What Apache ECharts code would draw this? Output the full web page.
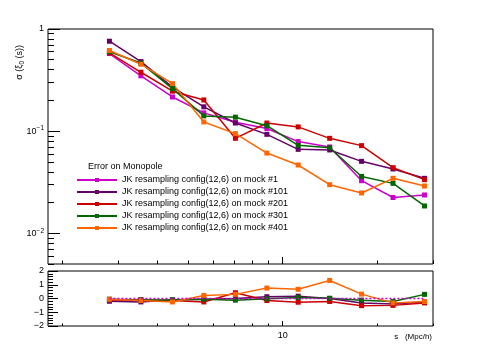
<!DOCTYPE html>
<html>
<head>
<meta charset="utf-8">
<script src="https://cdn.jsdelivr.net/npm/echarts@6/dist/echarts.min.js"></script>
<style>
  html, body { margin: 0; padding: 0; background: #fff; }
  #container { width: 482px; height: 346px; }
</style>
</head>
<body>
<div id="container"></div>
<script>
// s bins (Mpc/h)
var sValues = [2.82, 3.55, 4.47, 5.62, 7.08, 8.91, 11.2, 14.1, 17.8, 22.4, 28.2];

var seriesNames = [
  'JK resampling config(12,6) on mock #1',
  'JK resampling config(12,6) on mock #101',
  'JK resampling config(12,6) on mock #201',
  'JK resampling config(12,6) on mock #301',
  'JK resampling config(12,6) on mock #401'
];
var seriesColors = ['#cc00cc', '#660066', '#cc0000', '#006600', '#ff6600'];

// top panel: sigma(xi_0(s))
var sigmaMock1   = [0.575, 0.348, 0.216, 0.151, 0.122, 0.106, 0.079, 0.070, 0.0327, 0.0224, 0.0237];
var sigmaMock101 = [0.759, 0.480, 0.270, 0.173, 0.120, 0.093, 0.0663, 0.0654, 0.0506, 0.0426, 0.0345];
var sigmaMock201 = [0.584, 0.377, 0.246, 0.202, 0.085, 0.120, 0.110, 0.085, 0.0721, 0.0439, 0.0335];
var sigmaMock301 = [0.598, 0.464, 0.261, 0.141, 0.137, 0.113, 0.0726, 0.0688, 0.036, 0.0308, 0.0185];
var sigmaMock401 = [0.616, 0.452, 0.292, 0.123, 0.0945, 0.061, 0.0466, 0.0299, 0.0248, 0.0345, 0.029];

// bottom panel: difference w.r.t. mock #1
var diffMock1   = [0, 0, 0, 0, 0, 0, 0, 0, 0, 0, 0];
var diffMock101 = [-0.2, -0.25, -0.1, -0.05, 0.0, 0.13, 0.17, 0.0, -0.32, -0.4, -0.25];
var diffMock201 = [-0.1, -0.1, -0.15, -0.25, 0.42, -0.15, -0.27, -0.22, -0.52, -0.5, -0.32];
var diffMock301 = [-0.05, -0.1, -0.1, -0.05, -0.12, -0.02, 0.07, 0.02, -0.12, -0.22, 0.3];
var diffMock401 = [-0.05, -0.15, -0.25, 0.22, 0.3, 0.76, 0.67, 1.31, 0.32, -0.32, -0.22];

// tick values
var xMajorTicks = [10];
var xMinorTicks = [2, 3, 4, 5, 6, 7, 8, 9, 20, 30];
var yMajorTicks = [0.01, 0.1, 1];
var yMinorTicks = [0.005, 0.006, 0.007, 0.008, 0.009, 0.02, 0.03, 0.04, 0.05, 0.06, 0.07, 0.08, 0.09,
                   0.2, 0.3, 0.4, 0.5, 0.6, 0.7, 0.8, 0.9];
var xRange = [1.8, 30];
var yRange = [0.005, 1];

var sigmaData = [sigmaMock1, sigmaMock101, sigmaMock201, sigmaMock301, sigmaMock401];
var diffData = [diffMock1, diffMock101, diffMock201, diffMock301, diffMock401];

var FONT = 'Liberation Sans, Arial, sans-serif';
var lg = Math.log10;

var dom = document.getElementById('container');
var myChart = echarts.init(dom, null, { renderer: 'canvas' });

function helperAxis(grid, position, range, ticks, len, labels, formatter) {
  return {
    type: 'value',
    gridIndex: grid,
    position: position,
    min: lg(range[0]),
    max: lg(range[1]),
    axisLine: { show: false, onZero: false },
    splitLine: { show: false },
    axisTick: { show: true, inside: true, length: len, customValues: ticks.map(lg),
                lineStyle: { color: '#000', width: 1 } },
    axisLabel: labels ? {
      show: true, customValues: ticks.map(lg), margin: 4,
      fontFamily: FONT, fontSize: 9, color: '#000',
      formatter: formatter,
      rich: { sup: { fontSize: 6.5, verticalAlign: 'top', lineHeight: 12, fontFamily: FONT, color: '#000' },
              n: { fontSize: 9, lineHeight: 12, fontFamily: FONT, color: '#000' } }
    } : { show: false }
  };
}

var series = [];
for (var i = 0; i < seriesNames.length; i++) {
  series.push({
    type: 'line', name: seriesNames[i],
    xAxisIndex: 0, yAxisIndex: 0,
    data: sValues.map(function (s, k) { return [s, sigmaData[i][k]]; }),
    symbol: 'rect', symbolSize: 5,
    lineStyle: { width: 1.5, color: seriesColors[i] },
    itemStyle: { color: seriesColors[i] },
    animation: false
  });
}
for (var j = 0; j < seriesNames.length; j++) {
  var isRef = j === 0;
  series.push({
    type: 'line', name: seriesNames[j],
    xAxisIndex: 1, yAxisIndex: 1,
    data: sValues.map(function (s, k) { return [s, diffData[j][k]]; }),
    symbol: 'rect', symbolSize: 5, showSymbol: !isRef,
    z: isRef ? 5 : 2,
    lineStyle: { width: 1.5, color: seriesColors[j], type: isRef ? [2, 2] : 'solid' },
    itemStyle: { color: seriesColors[j] },
    animation: false
  });
}

var option = {
  animation: false,
  backgroundColor: '#fff',
  title: {
    text: 'Error on Monopole', left: 88, top: 162, padding: 0,
    textStyle: { fontFamily: FONT, fontSize: 9, fontWeight: 'normal', color: '#000' }
  },
  legend: {
    data: seriesNames, orient: 'vertical', left: 76, top: 174, padding: 0,
    itemWidth: 40, itemHeight: 5, itemGap: 0, selectedMode: false,
    textStyle: { fontFamily: FONT, fontSize: 9, lineHeight: 12, color: '#000' }
  },
  grid: [
    { left: 48, top: 29, width: 385, height: 235, show: true, borderColor: '#000', borderWidth: 1, containLabel: false },
    { left: 48, top: 271, width: 385, height: 55, show: true, borderColor: '#000', borderWidth: 1, containLabel: false }
  ],
  xAxis: [
    { type: 'log', gridIndex: 0, min: xRange[0], max: xRange[1], show: false },
    { type: 'log', gridIndex: 1, min: xRange[0], max: xRange[1], show: false },
    helperAxis(0, 'bottom', xRange, xMajorTicks, 7, false),
    helperAxis(0, 'bottom', xRange, xMinorTicks, 3.5, false),
    helperAxis(1, 'bottom', xRange, xMajorTicks, 5, true, function (v) {
      return '{n|' + Math.round(Math.pow(10, v)) + '}';
    }),
    helperAxis(1, 'bottom', xRange, xMinorTicks, 2.5, false)
  ],
  yAxis: [
    { type: 'log', gridIndex: 0, min: yRange[0], max: yRange[1], show: false },
    {
      type: 'value', gridIndex: 1, position: 'left', min: -2, max: 2, interval: 1,
      axisLine: { show: false, onZero: false },
      splitLine: { show: false },
      axisTick: { show: true, inside: true, length: 10, lineStyle: { color: '#000' } },
      minorTick: { show: true, splitNumber: 5, length: 5, lineStyle: { color: '#000' } },
      axisLabel: { margin: 4, fontFamily: FONT, fontSize: 9, color: '#000',
                   formatter: function (v) { return v < 0 ? '\u2212' + (-v) : '' + v; } }
    },
    helperAxis(0, 'left', yRange, yMajorTicks, 12, true, function (v) {
      var e = Math.round(v);
      return e === 0 ? '{n|1}' : '{n|10}{sup|\u2212' + (-e) + '}';
    }),
    helperAxis(0, 'left', yRange, yMinorTicks, 6, false)
  ],
  graphic: [
    {
      type: 'text', x: 20, y: 45, rotation: Math.PI / 2,
      style: {
        text: '{a|\u03c3 (\u03be}{s|0}{a| (s))}', textAlign: 'right', textVerticalAlign: 'middle',
        rich: {
          a: { fontFamily: FONT, fontSize: 9, lineHeight: 12, fill: '#000' },
          s: { fontFamily: FONT, fontSize: 6.5, lineHeight: 12, verticalAlign: 'bottom', fill: '#000' }
        }
      }
    },
    {
      type: 'text', x: 432, y: 337,
      style: { text: 's   (Mpc/h)', fontFamily: FONT, fontSize: 8, fill: '#000',
               textAlign: 'right', textVerticalAlign: 'middle' }
    }
  ],
  series: series
};

myChart.setOption(option);
window.addEventListener('resize', myChart.resize);
</script>
</body>
</html>
